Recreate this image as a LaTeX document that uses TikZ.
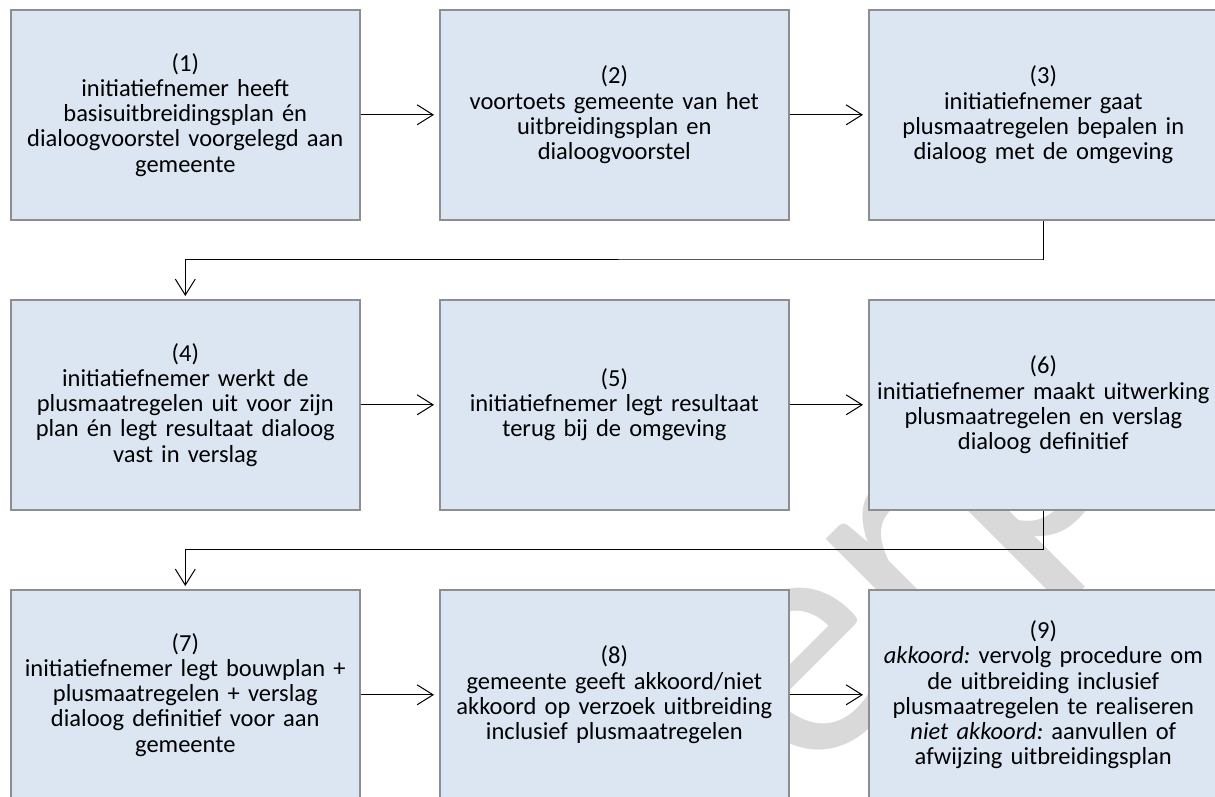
\documentclass[tikz,border=0pt]{standalone}
\usepackage{fontspec}
\setmainfont{Carlito}
\usetikzlibrary{arrows.meta}
\definecolor{boxfill}{HTML}{DCE6F2}
\definecolor{boxline}{HTML}{8E8E8E}
\definecolor{wm}{HTML}{D9D9D9}
\frenchspacing
\tikzset{
  x=1pt,y=-1pt,
  stepbox/.style={draw=boxline,line width=1.6pt,fill=boxfill,minimum width=349pt,minimum height=210pt,
    inner sep=0pt,align=center,text width=347pt,font=\fontsize{24.5}{25.3}\selectfont\frenchspacing,anchor=north west},
  conn/.style={draw=black,line width=1pt,-{Straight Barb[length=16pt,width=20pt,line width=1pt]},shorten >=5pt},
  elbow/.style={draw=black,line width=1pt,-{Straight Barb[length=16pt,width=20pt,line width=1pt]},shorten >=3pt}
}
\begin{document}
\begin{tikzpicture}
\useasboundingbox (0,0) rectangle (1215,796);
\clip (0,0) rectangle (1215,796);
\fill[white] (0,0) rectangle (1215,796);
\node[anchor=base west,rotate=45,inner sep=0pt,text=wm,font=\fontsize{340}{340}\selectfont] (wmark) at (272.5,1322.5) {Ontwerp};
\node[stepbox] (b1) at (10,9) {(1)\\initiatiefnemer heeft\\basisuitbreidingsplan én\\dialoogvoorstel voorgelegd aan\\gemeente};
\node[stepbox] (b2) at (439,9) {(2)\\voortoets gemeente van het\\uitbreidingsplan en\\dialoogvoorstel};
\node[stepbox] (b3) at (868,9) {(3)\\initiatiefnemer gaat\\plusmaatregelen bepalen in\\dialoog met de omgeving};
\node[stepbox] (b4) at (10,299) {(4)\\initiatiefnemer werkt de\\plusmaatregelen uit voor zijn\\plan én legt resultaat dialoog\\vast in verslag};
\node[stepbox] (b5) at (439,299) {(5)\\initiatiefnemer legt resultaat\\terug bij de omgeving};
\node[stepbox] (b6) at (868,299) {(6)\\initiatiefnemer maakt uitwerking\\plusmaatregelen en verslag\\dialoog definitief};
\node[stepbox] (b7) at (10,589) {(7)\\initiatiefnemer legt bouwplan +\\plusmaatregelen + verslag\\dialoog definitief voor aan\\gemeente};
\node[stepbox] (b8) at (439,589) {(8)\\gemeente geeft akkoord/niet\\akkoord op verzoek uitbreiding\\inclusief plusmaatregelen};
\node[stepbox] (b9) at (868,589) {(9)\\{\itshape akkoord:} vervolg procedure om\\de uitbreiding inclusief\\plusmaatregelen te realiseren\\{\itshape niet akkoord:} aanvullen of\\afwijzing uitbreidingsplan};
\draw[conn] (b1.east) -- (b2.west);
\draw[conn] (b2.east) -- (b3.west);
\draw[conn] (b4.east) -- (b5.west);
\draw[conn] (b5.east) -- (b6.west);
\draw[conn] (b7.east) -- (b8.west);
\draw[conn] (b8.east) -- (b9.west);
\draw[elbow] (b3.south) |- (1042.5,259) -| (b4.north);
\draw[elbow] (b6.south) |- (1042.5,549) -| (b7.north);
\end{tikzpicture}
\end{document}
